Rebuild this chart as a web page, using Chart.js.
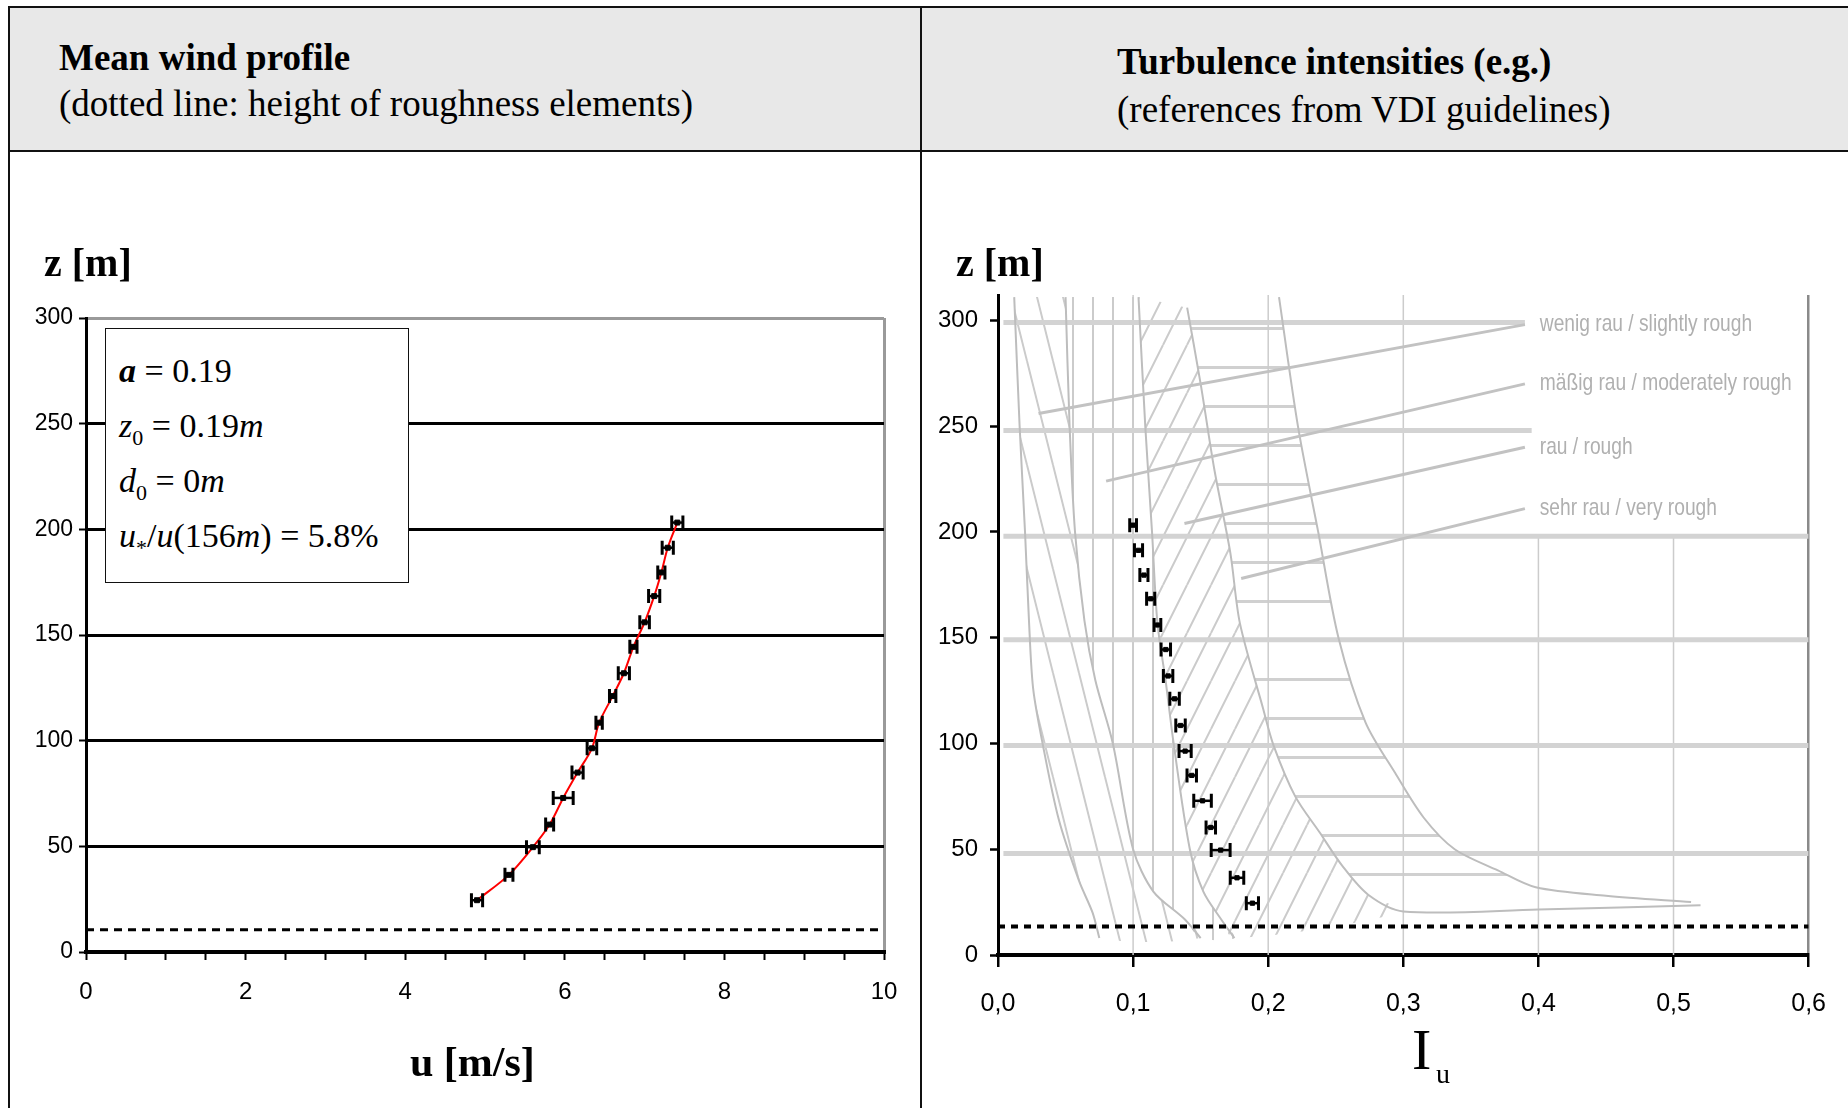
<!DOCTYPE html>
<html>
<head>
<meta charset="utf-8">
<script src="https://cdn.jsdelivr.net/npm/chart.js@4.4.1/dist/chart.umd.min.js"></script>
<style>
  body { margin: 0; width: 1848px; height: 1108px; overflow: hidden; background: #fff; position: relative;
         font-family: "Liberation Serif", "Times New Roman", serif; }
  .abs { position: absolute; }
  #frame { left: 8px; top: 6px; width: 1900px; height: 1200px; border: 2px solid #111; box-sizing: border-box; }
  #head { left: 10px; top: 8px; width: 1838px; height: 142px; background: #e8e8e8; border-bottom: 2px solid #111; }
  #divider { left: 920px; top: 6px; width: 2px; height: 1102px; background: #111; }
  .t { white-space: nowrap; color: #000; line-height: 1; }
  .h1 { font-size: 37px; font-weight: bold; }
  .h2 { font-size: 37px; }
  .ax { font-size: 40px; font-weight: bold; }
  #box { left: 105px; top: 328px; width: 304px; height: 255px; border: 1.5px solid #111; background: #fff; box-sizing: border-box; }
  #box div { position: absolute; left: 13px; font-size: 34px; white-space: nowrap; line-height: 1; }
  #box sub { font-size: 22px; vertical-align: baseline; position: relative; top: 8px; line-height: 0; }
  canvas { position: absolute; }
</style>
</head>
<body>
<div id="frame" class="abs"></div>
<div id="head" class="abs"></div>
<div id="divider" class="abs"></div>

<div class="abs t h1" style="left:59px; top:39px;">Mean wind profile</div>
<div class="abs t h2" style="left:59px; top:85px;">(dotted line: height of roughness elements)</div>
<div class="abs t h1" style="left:1117px; top:43px;">Turbulence intensities (e.g.)</div>
<div class="abs t h2" style="left:1117px; top:91px;">(references from VDI guidelines)</div>

<canvas id="windChart" width="910" height="955" style="left:10px; top:153px;"></canvas>
<canvas id="turbChart" width="925" height="955" style="left:923px; top:153px;"></canvas>

<div class="abs t ax" style="left:44px; top:243px;">z [m]</div>
<div class="abs t ax" style="left:956px; top:243px;">z [m]</div>
<div class="abs t" style="left:410px; top:1041px; font-size:42px; font-weight:bold;">u [m/s]</div>
<div class="abs t" style="left:1412px; top:1021px; font-size:58px;">I</div>
<div class="abs t" style="left:1436px; top:1060px; font-size:28px;">u</div>

<div id="box" class="abs">
  <div style="top:25px;"><b><i>a</i></b> = 0.19</div>
  <div style="top:80px;"><i>z</i><sub>0</sub> = 0.19<i>m</i></div>
  <div style="top:135px;"><i>d</i><sub>0</sub> = 0<i>m</i></div>
  <div style="top:190px;"><i>u</i><sub>*</sub>/<i>u</i>(156<i>m</i>) = 5.8%</div>
</div>

<script>
// measurement heights (same for both panels)
const heights = [24.5, 36.5, 49.6, 60.3, 72.9, 84.9, 96.4, 108.5, 121.1, 131.9, 144.4, 156, 168.4, 179.6, 191.3, 203.2];

// left panel: mean wind speed
const uMean = [4.90, 5.30, 5.60, 5.81, 5.98, 6.16, 6.34, 6.43, 6.60, 6.74, 6.86, 7.00, 7.12, 7.21, 7.29, 7.41];
const uErr = [0.07, 0.05, 0.08, 0.05, 0.125, 0.07, 0.06, 0.04, 0.04, 0.07, 0.045, 0.06, 0.07, 0.045, 0.07, 0.07];
const roughHeightLeft = 10.5;
const uRange = [0, 10];
const zTicks = [0, 50, 100, 150, 200, 250, 300];

// right panel: turbulence intensity
const iuMean = [0.1883, 0.1769, 0.1648, 0.1575, 0.1514, 0.1434, 0.1385, 0.1351, 0.1307, 0.1259, 0.1242, 0.118, 0.113, 0.108, 0.104, 0.100];
const iuErr = [0.0045, 0.005, 0.007, 0.0035, 0.0065, 0.0035, 0.0045, 0.0035, 0.0035, 0.0035, 0.0035, 0.0025, 0.003, 0.003, 0.003, 0.0025];
const roughHeightRight = 13.5;
const iuRange = [0, 0.6];

// VDI reference chart (background)
const bA_z = [311, 250, 200, 157, 126, 100, 64, 35, 20, 8];
const bA_iu = [0.012, 0.016, 0.02, 0.023, 0.026, 0.033, 0.045, 0.06, 0.07, 0.075];
const bB_z = [311, 250, 200, 158, 130, 100, 50, 30, 17, 8];
const bB_iu = [0.05, 0.053, 0.057, 0.064, 0.072, 0.085, 0.1, 0.115, 0.138, 0.15];
const bC_z = [311, 250, 200, 157, 130, 100, 50, 30, 17, 8];
const bC_iu = [0.104, 0.109, 0.114, 0.118, 0.124, 0.13, 0.142, 0.152, 0.165, 0.175];
const bD_z = [306, 270, 230, 190, 157, 117, 99, 75, 58, 42, 28.5, 20.6];
const bD_iu = [0.14, 0.15, 0.16, 0.172, 0.179, 0.196, 0.204, 0.22, 0.238, 0.255, 0.274, 0.30];
const tail_z = [21.5, 23.5];
const tail_iu = [0.40, 0.52];
const bR_z = [311, 250, 200, 150, 110, 86, 65, 50, 40, 32, 28, 25];
const bR_iu = [0.208, 0.222, 0.237, 0.252, 0.272, 0.294, 0.315, 0.338, 0.37, 0.398, 0.45, 0.513];

const bandZ = [299, 248, 198, 149, 99, 48];
const bandEnd = [0.39, 0.395, 0.6, 0.6, 0.6, 0.6];
const vGridIu = [0.1, 0.2, 0.3, 0.4, 0.5];
const vGridTop = [312, 312, 312, 198, 198];

const labelText = ["wenig rau / slightly rough", "mäßig rau / moderately rough", "rau / rough", "sehr rau / very rough"];
const labelIu = [0.401, 0.401, 0.401, 0.401];
const labelZ = [298, 270, 240, 211];
const pointerEndIu = [0.03, 0.08, 0.138, 0.18];
const pointerEndZ = [256, 224, 204, 178];

const sans = '"Liberation Sans", Arial, sans-serif';

function pts(xs, ys) {
  return xs.map((v, i) => ({ x: v, y: ys[i] }));
}

function polygon(leftX, leftY, rightX, rightY) {
  const out = pts(leftX, leftY);
  for (let i = rightX.length - 1; i >= 0; i--) out.push({ x: rightX[i], y: rightY[i] });
  return out;
}

function hatch(kind) {
  const c = document.createElement("canvas");
  const g = c.getContext("2d");
  if (kind === "back") { c.width = 26; c.height = 104; }
  if (kind === "fwd") { c.width = 24; c.height = 48; }
  if (kind === "vert") { c.width = 20; c.height = 20; }
  if (kind === "horiz") { c.width = 20; c.height = 39; }
  g.strokeStyle = kind === "horiz" ? "#d0d0d0" : "#cbcbcb";
  g.lineWidth = kind === "horiz" ? 3 : 2;
  g.beginPath();
  const w = c.width, h = c.height;
  if (kind === "back") {
    [-w, 0, w].forEach((o) => { g.moveTo(o, 0); g.lineTo(o + w, h); });
  } else if (kind === "fwd") {
    [-w, 0, w].forEach((o) => { g.moveTo(o, h); g.lineTo(o + w, 0); });
  } else if (kind === "vert") {
    g.moveTo(w / 2, 0); g.lineTo(w / 2, h);
  } else {
    g.moveTo(0, h / 2); g.lineTo(w, h / 2);
  }
  g.stroke();
  return g.createPattern(c, "repeat");
}

// error bars drawn as "H" marks through the scales
const errorBars = {
  id: "errorBars",
  afterDatasetsDraw(chart, args, opts) {
    const ds = chart.data.datasets[0];
    const xs = chart.scales.x, ys = chart.scales.y;
    const ctx = chart.ctx;
    ctx.save();
    ctx.strokeStyle = "#000";
    ds.data.forEach((p, i) => {
      const lo = xs.getPixelForValue(p.x - opts.err[i]);
      const hi = xs.getPixelForValue(p.x + opts.err[i]);
      const py = ys.getPixelForValue(p.y);
      ctx.lineWidth = 2.5;
      ctx.beginPath();
      ctx.moveTo(lo, py); ctx.lineTo(hi, py);
      ctx.stroke();
      ctx.lineWidth = 3;
      ctx.beginPath();
      ctx.moveTo(lo, py - 7); ctx.lineTo(lo, py + 7);
      ctx.moveTo(hi, py - 7); ctx.lineTo(hi, py + 7);
      ctx.stroke();
    });
    ctx.restore();
  },
};

// zone names of the VDI scan, horizontally condensed like the original
const zoneLabels = {
  id: "zoneLabels",
  afterDatasetsDraw(chart) {
    const xs = chart.scales.x, ys = chart.scales.y;
    const ctx = chart.ctx;
    ctx.save();
    ctx.fillStyle = "#b0b0b0";
    ctx.font = "24px " + sans;
    ctx.textBaseline = "middle";
    labelText.forEach((txt, i) => {
      ctx.save();
      ctx.translate(xs.getPixelForValue(labelIu[i]), ys.getPixelForValue(labelZ[i]));
      ctx.scale(0.8, 1);
      ctx.fillText(txt, 0, 0);
      ctx.restore();
    });
    ctx.restore();
  },
};

function line(data, color, width, extra) {
  return Object.assign({ data, showLine: true, borderColor: color, borderWidth: width, pointRadius: 0, fill: false, tension: 0 }, extra || {});
}

// ---------- left: mean wind profile ----------
new Chart(document.getElementById("windChart"), {
  type: "scatter",
  data: {
    datasets: [
      { data: pts(uMean, heights), pointStyle: "rect", pointRadius: 3.5, backgroundColor: "#000", borderColor: "#000", borderWidth: 1 },
      line(pts(uMean, heights), "#ff0000", 2, { tension: 0.3 }),
      line(pts(uRange, [roughHeightLeft, roughHeightLeft]), "#000", 3, { borderDash: [8, 6] }),
    ],
  },
  options: {
    responsive: false,
    animation: false,
    layout: { padding: { left: 0, top: 165, right: 36, bottom: 96 } },
    plugins: { legend: { display: false }, tooltip: { enabled: false }, errorBars: { err: uErr } },
    scales: {
      x: {
        type: "linear", min: uRange[0], max: uRange[1],
        afterFit: (s) => { s.height = 60; },
        border: { display: true, color: "#000", width: 4 },
        grid: {
          color: (c) => (c.tick && c.tick.value === 10 ? "#9a9a9a" : "rgba(0,0,0,0)"),
          lineWidth: 3, tickColor: "#000", tickLength: 8, tickWidth: 2,
        },
        ticks: {
          stepSize: 0.5, autoSkip: false, maxRotation: 0, padding: 18, color: "#000",
          font: { family: sans, size: 24 },
          callback: (v) => (v % 2 === 0 ? String(v) : ""),
        },
      },
      y: {
        type: "linear", min: 0, max: 300,
        afterFit: (s) => { s.width = 76; },
        afterBuildTicks: (s) => { s.ticks = zTicks.map((v) => ({ value: v })); },
        border: { display: true, color: "#000", width: 3 },
        grid: {
          color: (c) => {
            const v = c.tick && c.tick.value;
            if (v === 300) return "#9a9a9a";
            if (v === 0) return "rgba(0,0,0,0)";
            return "#000";
          },
          lineWidth: 3, tickColor: "#000", tickLength: 7, tickWidth: 2,
        },
        ticks: { padding: 6, color: "#000", font: { family: sans, size: 23 } },
      },
    },
  },
  plugins: [errorBars],
});

// ---------- right: turbulence intensity ----------
const zones = [
  { d: polygon(bA_iu, bA_z, bB_iu, bB_z), p: hatch("back") },
  { d: polygon(bB_iu, bB_z, bC_iu, bC_z), p: hatch("vert") },
  { d: polygon(bC_iu, bC_z, bD_iu, bD_z), p: hatch("fwd") },
  { d: polygon(bD_iu.concat(tail_iu), bD_z.concat(tail_z), bR_iu, bR_z), p: hatch("horiz") },
];

const grey = "#c2c2c2";
const turbSets = [
  { data: pts(iuMean, heights), pointStyle: "rect", pointRadius: 3, backgroundColor: "#000", borderColor: "#000", borderWidth: 1 },
  line(pts(iuRange, [roughHeightRight, roughHeightRight]), "#000", 4, { borderDash: [7, 6] }),
];
labelIu.forEach((v, i) => turbSets.push(line(pts([v - 0.011, pointerEndIu[i]], [labelZ[i], pointerEndZ[i]]), grey, 3)));
[[bA_iu, bA_z], [bB_iu, bB_z], [bC_iu, bC_z], [bD_iu.concat(tail_iu), bD_z.concat(tail_z)], [bR_iu, bR_z]].forEach(([xs, ys]) =>
  turbSets.push(line(pts(xs, ys), "#bdbdbd", 2, { tension: 0.3 })));
bandZ.forEach((z, i) => turbSets.push(line(pts([0.004, bandEnd[i]], [z, z]), "#d3d3d3", 5)));
vGridIu.forEach((v, i) => turbSets.push(line(pts([v, v], [0, vGridTop[i]]), "#cccccc", 1.5)));
zones.forEach((zn) => turbSets.push({ data: zn.d, showLine: true, borderWidth: 0, pointRadius: 0, fill: "shape", backgroundColor: zn.p, tension: 0.3 }));

new Chart(document.getElementById("turbChart"), {
  type: "scatter",
  data: { datasets: turbSets },
  options: {
    responsive: false,
    animation: false,
    layout: { padding: { left: 0, top: 142, right: 29, bottom: 93 } },
    plugins: { legend: { display: false }, tooltip: { enabled: false }, errorBars: { err: iuErr } },
    scales: {
      x: {
        type: "linear", min: iuRange[0], max: iuRange[1],
        afterFit: (s) => { s.height = 60; },
        border: { display: true, color: "#000", width: 4 },
        grid: {
          color: (c) => (c.tick && Math.abs(c.tick.value - 0.6) < 1e-6 ? "#8a8a8a" : "rgba(0,0,0,0)"),
          lineWidth: 2.5, tickColor: "#000", tickLength: 12, tickWidth: 2.5,
        },
        ticks: {
          stepSize: 0.1, autoSkip: false, maxRotation: 0, padding: 22, color: "#000",
          font: { family: sans, size: 25 },
          callback: (v) => Number(v).toFixed(1).replace(".", ","),
        },
      },
      y: {
        type: "linear", min: 0, max: 312,
        afterFit: (s) => { s.width = 75; },
        afterBuildTicks: (s) => { s.ticks = zTicks.map((v) => ({ value: v })); },
        border: { display: true, color: "#000", width: 3 },
        grid: { drawOnChartArea: false, tickColor: "#000", tickLength: 8, tickWidth: 2.5 },
        ticks: { padding: 12, color: "#000", font: { family: sans, size: 24 } },
      },
    },
  },
  plugins: [errorBars, zoneLabels],
});
</script>
</body>
</html>
